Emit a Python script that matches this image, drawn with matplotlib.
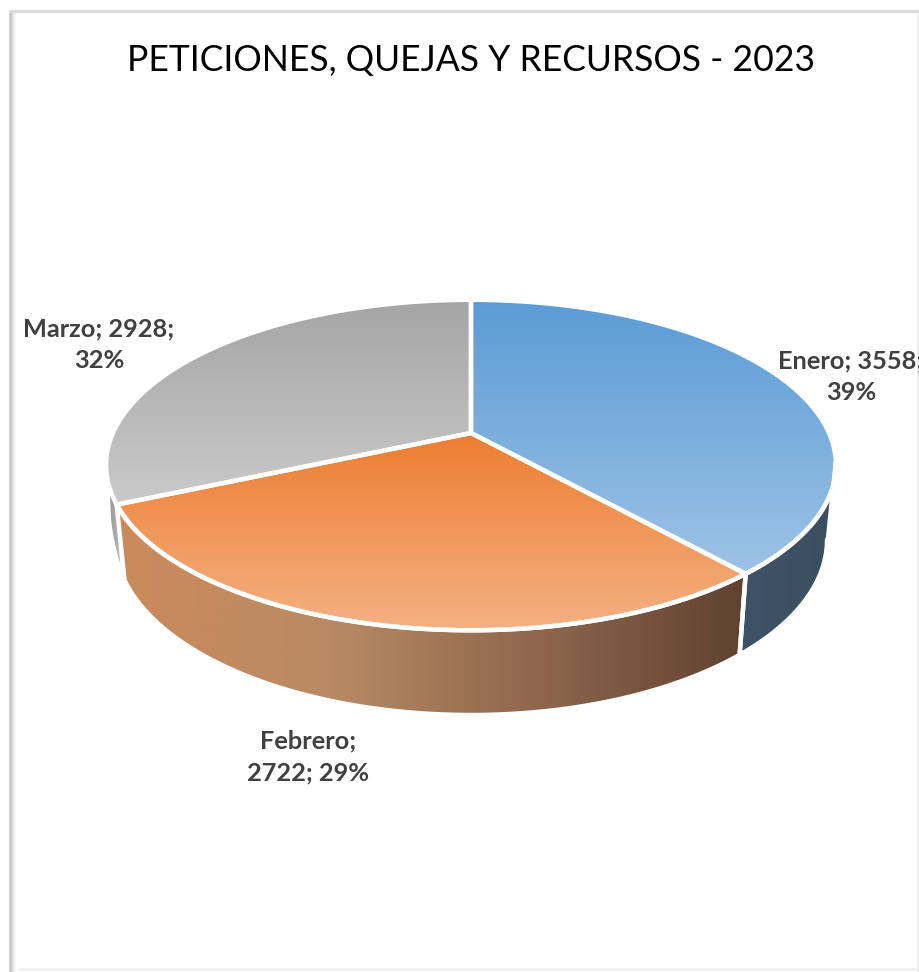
import numpy as np
import matplotlib
matplotlib.use('Agg')
import matplotlib.pyplot as plt
from matplotlib.colors import LinearSegmentedColormap
from matplotlib.patches import Polygon

meses = ['Enero', 'Febrero', 'Marzo']
valores = [3558, 2722, 2928]
porcentajes = [39, 29, 32]
titulo = 'PETICIONES, QUEJAS Y RECURSOS - 2023'

# colores de arriba/abajo de cada sector y de su costado
col_cara = [('#5b9bd5', '#9dc3e6'), ('#ed7d31', '#f4b183'), ('#a5a5a5', '#cacaca')]
col_lado = [['#3e5366', '#3c4f60'], ['#cc8a5b', '#b98a64', '#8f674d', '#5f4231'], ['#8c8c8c', '#bdbdbd']]

# geometria del pastel en pixeles
cx, cy = 471, 433
a, b, k = 358, 159, 0.194

fig = plt.figure(figsize=(9.2, 9.72), dpi=100)
ax = fig.add_axes([0, 0, 1, 1])
ax.set_xlim(0, 920)
ax.set_ylim(972, 0)
ax.axis('off')
plt.rcParams['font.family'] = ['Lato', 'DejaVu Sans']


def arco(t1, t2, n=200):
    t = np.radians(np.linspace(t1, t2, n))
    w = 1 + k * np.sin(t)
    return cx + a * np.cos(t) / w, cy - b * np.sin(t) / w


def rellenar(xy, colores, vertical=True, trazo=3.2):
    # degradado recortado a la forma del poligono
    cm = LinearSegmentedColormap.from_list('g', colores)
    x0, y0 = xy.min(axis=0)
    x1, y1 = xy.max(axis=0)
    g = np.linspace(0, 1, 256)
    g = g.reshape(-1, 1) if vertical else g.reshape(1, -1)
    im = ax.imshow(g, cmap=cm, extent=(x0, x1, y1, y0), aspect='auto', zorder=2)
    p = Polygon(xy, closed=True, transform=ax.transData, fc='none', ec='none')
    ax.add_patch(p)
    im.set_clip_path(p)
    if trazo:
        ax.add_patch(Polygon(xy, closed=True, fc='none', ec='white', lw=trazo, zorder=3, joinstyle='round'))


fracs = np.array(valores) / sum(valores)
bordes = 90 - 360 * np.concatenate([[0], np.cumsum(fracs)])

# costados primero (solo la parte delantera), el gris por debajo
# tramo: angulos, escala x, centro y, radios del borde inferior, trazo
lados = [
    (bordes[2], -174, 0.99, 497, 361, 282, 0, col_lado[2]),
    (-10, bordes[1], 0.978, 540, 356, 175, 3.2, col_lado[0]),
    (bordes[1], bordes[2], 0.978, 540, 356, 175, 3.2, col_lado[1]),
]
for t1, t2, esc, cy_ab, rx_ab, ry_ab, trazo, cols in lados:
    x, y = arco(t1, t2)
    xb = cx + (x - cx) * esc
    yb = cy_ab + ry_ab * np.sqrt(np.clip(1 - ((xb - cx) / rx_ab) ** 2, 0, 1))
    xy = np.column_stack([np.r_[x, xb[::-1]], np.r_[y, yb[::-1]]])
    rellenar(xy, cols, vertical=False, trazo=trazo)

# caras superiores
for i in range(3):
    x, y = arco(bordes[i], bordes[i + 1])
    xy = np.column_stack([np.r_[cx, x], np.r_[cy, y]])
    rellenar(xy, col_cara[i])

ax.set_xlim(0, 920)
ax.set_ylim(972, 0)

ax.text(471, 60, titulo, ha='center', va='center', fontsize=25.6, color='black')

etiquetas = [
    f'{meses[0]}; {valores[0]};\n{porcentajes[0]}%',
    f'{meses[1]};\n{valores[1]}; {porcentajes[1]}%',
    f'{meses[2]}; {valores[2]};\n{porcentajes[2]}%',
]
pos_etiq = [(851, 377), (308, 757), (99, 345)]
for txt, (px, py) in zip(etiquetas, pos_etiq):
    ax.text(px, py, txt, ha='center', va='center', fontsize=18.3, fontweight='bold',
            color='#404040', linespacing=1.45, clip_on=False)

# marco de la imagen
for i, c in enumerate(['#d4d4d4', '#c4c4c4', '#cfcfcf', '#dcdcdc', '#e8e8e8', '#f2f2f2', '#fafafa']):
    ax.plot([9 + i, 9 + i], [11, 972], color=c, lw=0.8, zorder=1, solid_capstyle='butt')
ax.plot([9, 920], [11.5, 11.5], color='#dcdcdc', lw=2.4, zorder=1, solid_capstyle='butt')
ax.plot([18, 918], [969, 969], color='#f0f0f0', lw=2, zorder=1, solid_capstyle='butt')
ax.plot([918.5, 918.5], [13, 972], color='#eeeeee', lw=1.5, zorder=1, solid_capstyle='butt')

fig.savefig('out.png', dpi=100)
